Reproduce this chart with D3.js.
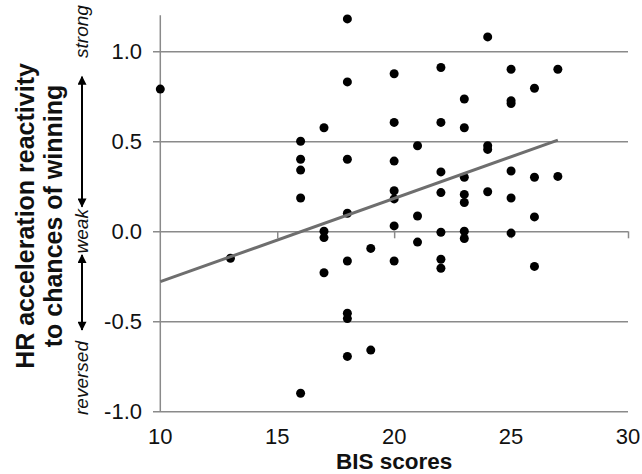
<!DOCTYPE html>
<html>
<head>
<meta charset="utf-8">
<script src="https://cdn.jsdelivr.net/npm/d3@7"></script>
<style>
  html, body { margin: 0; padding: 0; background: #fff; }
  svg { display: block; }
  text { font-family: "Liberation Sans", Arial, sans-serif; }
</style>
</head>
<body>
<svg id="chart" width="642" height="474"></svg>
<script>
// ---- data ----
const bisScores = [
  10,
  13,
  16, 16, 16, 16, 16,
  17, 17, 17, 17,
  18, 18, 18, 18, 18, 18, 18, 18,
  19, 19,
  20, 20, 20, 20, 20, 20, 20,
  21, 21, 21,
  22, 22, 22, 22, 22, 22, 22,
  23, 23, 23, 23, 23, 23, 23,
  24, 24, 24, 24,
  25, 25, 25, 25, 25, 25,
  26, 26, 26, 26,
  27, 27
];
const hrReactivity = [
  0.79,
  -0.15,
  0.50, 0.40, 0.34, 0.185, -0.90,
  0.575, 0.00, -0.035, -0.23,
  1.18, 0.83, 0.40, 0.10, -0.165, -0.455, -0.485, -0.695,
  -0.095, -0.66,
  0.875, 0.605, 0.39, 0.225, 0.18, 0.03, -0.165,
  0.475, 0.085, -0.06,
  0.91, 0.605, 0.33, 0.215, -0.005, -0.155, -0.205,
  0.735, 0.575, 0.30, 0.205, 0.16, 0.00, -0.04,
  1.08, 0.475, 0.455, 0.22,
  0.90, 0.725, 0.71, 0.335, 0.185, -0.01,
  0.795, 0.30, 0.08, -0.195,
  0.90, 0.305
];
const trendX = [10, 27];
const trendY = [-0.28, 0.507];
const xTicks = [10, 15, 20, 25, 30];
const yTicks = [-1.0, -0.5, 0.0, 0.5, 1.0];
const xTitle = "BIS scores";
const yTitleLines = ["HR acceleration reactivity", "to chances of winning"];
const annotLabels = ["strong", "weak", "reversed"];
const annotValues = [1.11, 0.0, -0.815];
const arrowRanges = [[0.859, 0.137], [-0.131, -0.548]];

// ---- layout ----
const svg = d3.select("#chart");
const x = d3.scaleLinear().domain([10, 30]).range([160.3, 628]);
const y = d3.scaleLinear().domain([-1.0, 1.2]).range([411.3, 15.3]);
const gridColor = "#8a8a8a";

// gridlines + y tick labels
const yAxis = d3.axisLeft(y)
  .tickValues(yTicks)
  .tickFormat(d => d.toFixed(1))
  .tickSize(-(628 - 153))
  .tickPadding(11);
const gy = svg.append("g").attr("transform", "translate(153,0)").call(yAxis);
gy.select(".domain").remove();
gy.selectAll(".tick line").attr("stroke", gridColor).attr("stroke-width", 1.5);
gy.selectAll(".tick text")
  .attr("font-size", 22).attr("fill", "#111")
  .attr("font-family", "'Liberation Sans', Arial, sans-serif");

// x ticks (hanging below zero line)
const xAxis = d3.axisBottom(x).tickValues(xTicks.filter(d => d !== 10)).tickSize(7).tickFormat("");
const gx = svg.append("g").attr("transform", `translate(0,${y(0)})`).call(xAxis);
gx.select(".domain").remove();
gx.selectAll(".tick line").attr("stroke", gridColor).attr("stroke-width", 1.5);

// x tick labels at the bottom
svg.append("g").selectAll("text").data(xTicks).join("text")
  .attr("x", d => x(d)).attr("y", 443.5)
  .attr("text-anchor", "middle").attr("font-size", 22).attr("fill", "#111")
  .text(d => d);

// y axis line
svg.append("line")
  .attr("x1", x(10)).attr("x2", x(10))
  .attr("y1", y(1.2)).attr("y2", y(-1.0))
  .attr("stroke", gridColor).attr("stroke-width", 1.5);

// points
const pts = bisScores.map((b, i) => ({ b, h: hrReactivity[i] }));
svg.append("g").selectAll("circle").data(pts).join("circle")
  .attr("cx", d => x(d.b)).attr("cy", d => y(d.h))
  .attr("r", 4.5).attr("fill", "#000");

// trend line
svg.append("path")
  .datum(trendX.map((t, i) => [t, trendY[i]]))
  .attr("d", d3.line().x(d => x(d[0])).y(d => y(d[1])))
  .attr("fill", "none").attr("stroke", "#6e6e6e").attr("stroke-width", 3);

// axis titles
svg.append("text")
  .attr("x", x(20)).attr("y", 469)
  .attr("text-anchor", "middle").attr("font-size", 22.5).attr("font-weight", "bold").attr("fill", "#111")
  .text(xTitle);

const yCenter = 216;
svg.append("g").selectAll("text").data(yTitleLines).join("text")
  .attr("transform", (d, i) => `translate(${34 + i * 28},${yCenter}) rotate(-90)`)
  .attr("text-anchor", "middle").attr("font-size", 25).attr("font-weight", "bold").attr("fill", "#111")
  .text(d => d);

// annotation arrows
const defs = svg.append("defs");
defs.append("marker").attr("id", "ah")
  .attr("viewBox", "0 0 10 10").attr("refX", 9).attr("refY", 5)
  .attr("markerWidth", 10).attr("markerHeight", 9).attr("markerUnits", "userSpaceOnUse")
  .attr("orient", "auto-start-reverse")
  .append("path").attr("d", "M0,0 L10,5 L0,10 Z").attr("fill", "#000");

svg.append("g").selectAll("line").data(arrowRanges).join("line")
  .attr("x1", 82).attr("x2", 82)
  .attr("y1", d => y(d[0])).attr("y2", d => y(d[1]))
  .attr("stroke", "#000").attr("stroke-width", 2)
  .attr("marker-start", "url(#ah)").attr("marker-end", "url(#ah)");

svg.append("g").selectAll("text").data(annotLabels).join("text")
  .attr("transform", (d, i) => `translate(88,${y(annotValues[i])}) rotate(-90)`)
  .attr("text-anchor", "middle").attr("font-size", 19).attr("font-style", "italic").attr("fill", "#111")
  .text(d => d);
</script>
</body>
</html>
